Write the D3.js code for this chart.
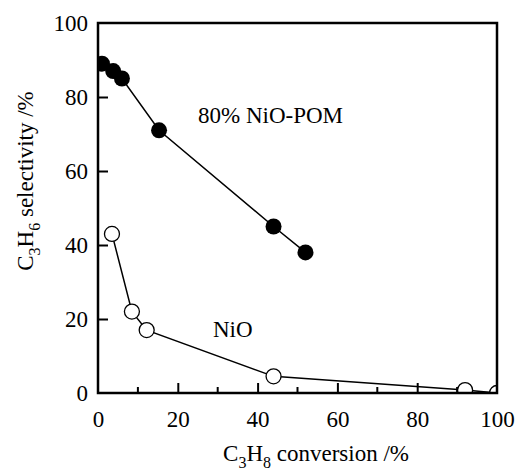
<!doctype html>
<meta charset='utf-8'>
<style>
	body { margin:0; }
	svg text { font-family:'Liberation Serif', 'Times New Roman', serif; }
</style>
<div id='container'></div>
<script src="https://cdnjs.cloudflare.com/ajax/libs/d3/7.8.5/d3.min.js"></script>
<script>
	// values
	var pomX = [1, 3.8, 6, 15.3, 44, 52]
	var pomY = [89, 87, 85, 71, 45, 38]
	var nioX = [3.5, 8.5, 12.2, 44, 92, 100]
	var nioY = [43, 22, 17, 4.5, 0.8, 0]
	var xTicks = [0, 20, 40, 60, 80, 100]
	var xMinor = [10, 30, 50, 70, 90]
	var yTicks = [0, 20, 40, 60, 80, 100]

	var W = 516, H = 472
	var m = {left:98, top:23, right:19, bottom:79}
	var iw = W - m.left - m.right, ih = H - m.top - m.bottom

	var svg = d3.select('#container').append('svg')
		.attr('width', W).attr('height', H)
		.style('display', 'block')

	var x = d3.scaleLinear().domain([0,100]).range([0, iw])
	var y = d3.scaleLinear().domain([0,100]).range([ih, 0])

	var g = svg.append('g').attr('transform', 'translate(' + m.left + ',' + m.top + ')')

	svg.append('defs').append('clipPath').attr('id','plot')
		.append('rect').attr('width', iw).attr('height', ih)

	// ticks inward, bottom and left only
	var xAxis = g.append('g').attr('transform','translate(0,' + ih + ')')
		.call(d3.axisBottom(x).tickValues(xTicks).tickSize(-10).tickPadding(20).tickFormat(d3.format('d')))
	xAxis.append('g').selectAll('line').data(xMinor).join('line')
		.attr('x1', function(d){ return x(d) }).attr('x2', function(d){ return x(d) })
		.attr('y1', 0).attr('y2', -6)
		.attr('stroke','#000').attr('stroke-width', 2)
	var yAxis = g.append('g')
		.call(d3.axisLeft(y).tickValues(yTicks).tickSize(-10).tickPadding(20).tickFormat(d3.format('d')))

	;[xAxis, yAxis].forEach(function(a){
		a.attr('font-family', null).attr('font-size', 23)
		a.select('.domain').remove()
		a.selectAll('.tick line').attr('stroke-width', 2)
		a.selectAll('.tick text').attr('fill','#000')
	})
	xAxis.selectAll('.tick text').attr('dy', '0.6em')
	yAxis.selectAll('.tick text').attr('x', -10)
	xAxis.selectAll('.tick').filter(function(d){ return d === 100 || d === 0 }).select('line').remove()
	yAxis.selectAll('.tick').filter(function(d){ return d === 100 || d === 0 }).select('line').remove()

	var plot = g.append('g').attr('clip-path','url(#plot)')
	var line = d3.line().x(function(d){ return x(d[0]) }).y(function(d){ return y(d[1]) })

	var pom = pomX.map(function(v,i){ return [v, pomY[i]] })
	var nio = nioX.map(function(v,i){ return [v, nioY[i]] })

	plot.append('path').datum(pom).attr('d', line)
		.attr('fill','none').attr('stroke','#000').attr('stroke-width', 1.5)
	plot.append('path').datum(nio).attr('d', line)
		.attr('fill','none').attr('stroke','#000').attr('stroke-width', 1.5)

	plot.selectAll('circle.pom').data(pom).join('circle').attr('class','pom')
		.attr('cx', function(d){ return x(d[0]) }).attr('cy', function(d){ return y(d[1]) })
		.attr('r', 8).attr('fill','#000')
	plot.selectAll('circle.nio').data(nio).join('circle').attr('class','nio')
		.attr('cx', function(d){ return x(d[0]) }).attr('cy', function(d){ return y(d[1]) })
		.attr('r', 7.5).attr('fill','#fff').attr('stroke','#000').attr('stroke-width', 1.3)

	// frame
	g.append('rect').attr('width', iw).attr('height', ih)
		.attr('fill','none').attr('stroke','#000').attr('stroke-width', 2.5)

	// labels
	g.append('text').attr('x', 100).attr('y', 100).attr('font-size', 23)
		.text('80% NiO-POM')
	g.append('text').attr('x', 115).attr('y', 314).attr('font-size', 23)
		.text('NiO')

	var xl = svg.append('text').attr('x', 316).attr('y', 461)
		.attr('text-anchor','middle').attr('font-size', 23)
	xl.append('tspan').text('C')
	xl.append('tspan').attr('dy', 7).attr('font-size', 16).text('3')
	xl.append('tspan').attr('dy', -7).text('H')
	xl.append('tspan').attr('dy', 7).attr('font-size', 16).text('8')
	xl.append('tspan').attr('dy', -7).text(' conversion /%')

	var yl = svg.append('text').attr('transform','translate(33,181) rotate(-90)')
		.attr('text-anchor','middle').attr('font-size', 23)
	yl.append('tspan').text('C')
	yl.append('tspan').attr('dy', 7).attr('font-size', 16).text('3')
	yl.append('tspan').attr('dy', -7).text('H')
	yl.append('tspan').attr('dy', 7).attr('font-size', 16).text('6')
	yl.append('tspan').attr('dy', -7).text(' selectivity /%')
</script>
